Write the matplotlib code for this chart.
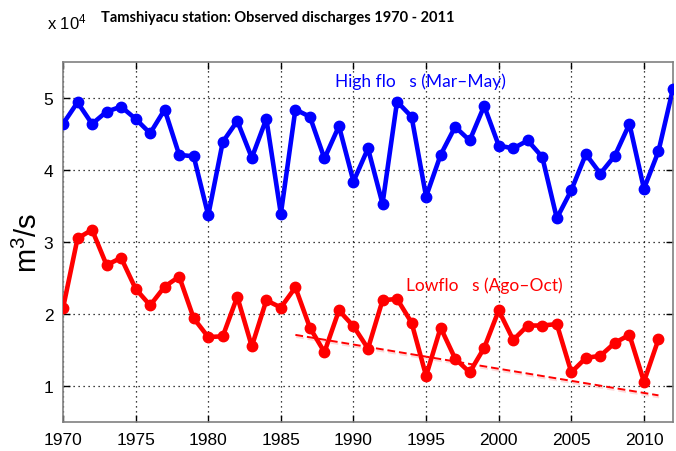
import numpy as np
import matplotlib
matplotlib.use('Agg')
import matplotlib.pyplot as plt
import matplotlib.patheffects as pe

# 数据 (单位: 10^4 m3/s)
years_high = np.arange(1970, 2013)
high_flows = [4.64, 4.94, 4.64, 4.81, 4.88, 4.71, 4.51, 4.84, 4.21, 4.19,
              3.37, 4.39, 4.68, 4.17, 4.71, 3.39, 4.84, 4.74, 4.16, 4.61,
              3.84, 4.30, 3.53, 4.95, 4.74, 3.63, 4.21, 4.60, 4.41, 4.89,
              4.34, 4.30, 4.41, 4.18, 3.33, 3.72, 4.22, 3.95, 4.20, 4.64,
              3.74, 4.26, 5.13]

years_low = np.arange(1970, 2012)
low_flows = [2.08, 3.05, 3.17, 2.68, 2.78, 2.35, 2.12, 2.38, 2.52, 1.94,
             1.68, 1.69, 2.24, 1.55, 2.19, 2.09, 2.37, 1.81, 1.47, 2.05,
             1.83, 1.52, 2.19, 2.21, 1.88, 1.14, 1.81, 1.38, 1.19, 1.53,
             2.05, 1.64, 1.84, 1.84, 1.86, 1.19, 1.39, 1.42, 1.60, 1.71,
             1.06, 1.65]

trend_years = [1986, 2011]
trend_vals = [1.71, 0.87]

x_ticks = [1970, 1975, 1980, 1985, 1990, 1995, 2000, 2005, 2010]
y_ticks = [1, 2, 3, 4, 5]

plt.rcParams['font.family'] = ['Liberation Sans', 'DejaVu Sans']
plt.rcParams['mathtext.fontset'] = 'custom'
plt.rcParams['mathtext.rm'] = 'Liberation Sans'
plt.rcParams['mathtext.it'] = 'Liberation Sans'

fig = plt.figure(figsize=(6.76, 4.52), dpi=100)
fig.patch.set_facecolor('white')
ax = fig.add_axes([63 / 676, 1 - 423 / 452, 610 / 676, 360 / 452])

ax.plot(years_high, high_flows, '-o', color='#0000ff', lw=3.3, ms=7.5, zorder=3)
ax.plot(years_low, low_flows, '-o', color='#ff0000', lw=3.3, ms=7.5, zorder=3)
ax.plot(trend_years, trend_vals, '--', color='#ff0000', lw=1.4, dashes=(4, 2), zorder=2,
        path_effects=[pe.SimpleLineShadow(offset=(0.5, -1.5), shadow_color='#ff0000', alpha=0.15),
                      pe.Normal()])

ax.set_xlim(1970, 2012)
ax.set_ylim(0.5, 5.5)
ax.set_xticks(x_ticks)
ax.set_yticks(y_ticks)
ax.grid(True, color='black', linestyle=(0, (1, 3)), lw=0.9)
ax.tick_params(direction='in', length=5, width=1, top=True, right=True,
               colors='black', labelsize=12.5, pad=7)
for sp in ax.spines.values():
    sp.set_color('#808080')
    sp.set_linewidth(1.2)

ax.set_ylabel('m$^{3}$/s', fontsize=21)
ax.yaxis.set_label_coords(-20 / 610, 0.5)

# 文字位置 (像素, 从上往下)
ax.text(335, 452 - 82, 'High flo   s (Mar\u2013May)', transform=None, color='#0000ff',
        fontsize=12.5, family='Lato', va='center', ha='left')
ax.text(406, 452 - 286, 'Lowflo   s (Ago\u2013Oct)', transform=None, color='#ff0000',
        fontsize=12.5, family='Lato', va='center', ha='left')

fig.text(278 / 676, 1 - 18 / 452, 'Tamshiyacu station: Observed discharges 1970 - 2011',
         ha='center', va='center', fontsize=10.5, fontweight='bold', family='Lato')
fig.text(47 / 676, 1 - 29 / 452, 'x 10$^{4}$', ha='left', va='baseline', fontsize=12)

fig.savefig('out.png', dpi=100)
